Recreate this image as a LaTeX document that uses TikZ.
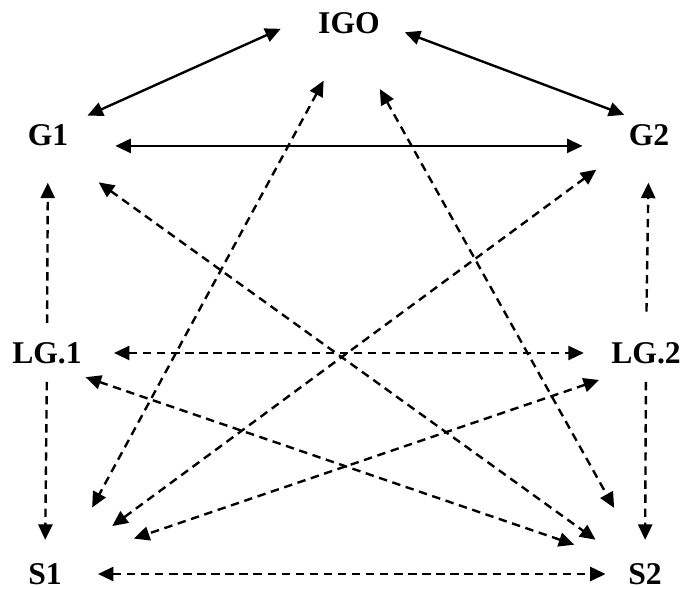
\documentclass[tikz,border=0pt]{standalone}
\usepackage{fontspec}
\setmainfont{Liberation Serif}
\usetikzlibrary{arrows.meta}

\begin{document}
\begin{tikzpicture}[x=0.025cm, y=-0.025cm, every node/.style={inner sep=0pt, font=\bfseries\fontsize{22.5}{26}\selectfont}]

\useasboundingbox (0,0) rectangle (684,589);

\node (igo) at (349,23) {IGO};
\node (g1) at (48,135) {G1};
\node (g2) at (649,135) {G2};
\node (lg1) at (47,353) {LG.1};
\node (lg2) at (646,353) {LG.2};
\node (s1) at (45,574) {S1};
\node (s2) at (645,574) {S2};

\begin{scope}[line width=1.7pt, <->, >={Triangle[length=11pt,width=10pt]}]
\draw [shorten <=1.02cm, shorten >=0.52cm] (igo.north west) -- (g1.north east);
\draw [shorten <=0.66cm, shorten >=0.66cm] (igo.east) -- (g2.north);
\draw [shorten <=1.17cm, shorten >=1.15cm] (g1.south east) -- (g2.south west);
\end{scope}

\begin{scope}[line width=1.7pt, dash pattern=on 6pt off 4pt, <->, >={Triangle[length=11pt,width=10pt]}]
\draw [shorten <=1.33cm, shorten >=1.58cm] (igo.south) -- (s1.north east);
\draw [shorten <=1.58cm, shorten >=1.58cm] (igo.south) -- (s2.north);
\draw [shorten <=1.56cm, shorten >=1cm] (g1.south) -- (s2.north west);
\draw [shorten <=1cm, shorten >=1.56cm] (g2.south west) -- (s1.north east);
\draw [shorten <=1.02cm, shorten >=1.42cm] (lg1.south) -- (s2.north west);
\draw [shorten <=1.24cm, shorten >=1.9cm] (lg2.south) -- (s1.north east);
\draw [shorten <=0.8cm, shorten >=0.68cm] (lg1.east) -- (lg2.west);
\draw [shorten <=0.9cm, shorten >=0.56cm] (s1.east) -- (s2.west);
\draw [-> , shorten <=0.48cm, shorten >=0.92cm] (lg1.north) -- (g1.south);
\draw [->, shorten <=0.76cm, shorten >=0.92cm] (lg2.north) -- (g2.south);
\draw [->, shorten <=0.45cm, shorten >=0.58cm] (lg1.south) -- (s1.north);
\draw [->, shorten <=0.45cm, shorten >=0.58cm] (lg2.south) -- (s2.north);
\end{scope}

\end{tikzpicture}
\end{document}
